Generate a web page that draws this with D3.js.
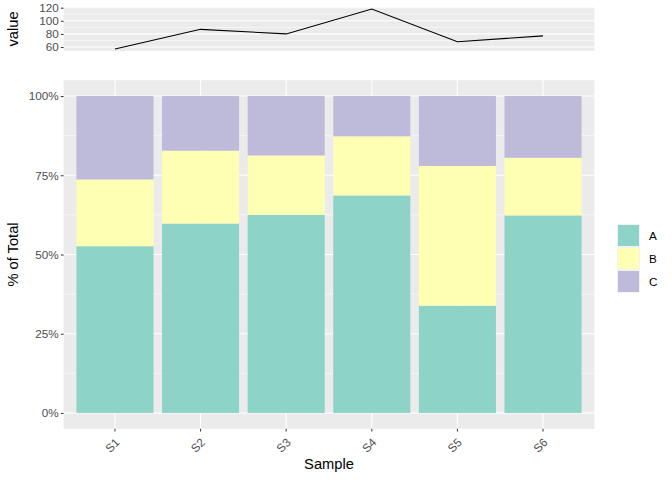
<!DOCTYPE html>
<html>
<head>
<meta charset="utf-8">
<script src="https://cdn.jsdelivr.net/npm/d3@7"></script>
<style>
  body { margin: 0; background: #fff; }
  text { font-family: "Liberation Sans", Arial, sans-serif; }
</style>
</head>
<body>
<svg id="chart" width="672" height="480"></svg>
<script>
// counts per sample and group
var samples = ["S1", "S2", "S3", "S4", "S5", "S6"];
var groups = ["A", "B", "C"];
var countsA = [30, 52, 50, 81, 23, 48];
var countsB = [12, 20, 15, 22, 30, 14];
var countsC = [15, 15, 15, 15, 15, 15];
var colors = ["#8DD3C7", "#FFFFB3", "#BEBADA"];
var topTicks = [60, 80, 100, 120];
var topMinor = [70, 90, 110];
var pctTicks = [0, 0.25, 0.5, 0.75, 1];
var pctMinor = [0.125, 0.375, 0.625, 0.875];

var rows = samples.map(function(s, i) {
  return { sample: s, A: countsA[i], B: countsB[i], C: countsC[i],
           total: countsA[i] + countsB[i] + countsC[i] };
});
rows.forEach(function(r) { groups.forEach(function(g) { r["p" + g] = r[g] / r.total; }); });

var svg = d3.select("#chart");
var left = 63.6, right = 594.4;
var axisCol = "#4D4D4D", gridCol = "#FFFFFF", panelCol = "#EBEBEB";

// ggplot discrete scale: 0.6 units of expansion each side
var x = d3.scaleBand().domain(samples).range([left, right]).paddingOuter(0.1).paddingInner(0);
var xc = function(s) { return x(s) + x.bandwidth() / 2; };

// ---- top panel: totals
var tTop = 7, tBot = 51;
var ext = d3.extent(rows, function(r) { return r.total; });
var pad = (ext[1] - ext[0]) * 0.05;
var yT = d3.scaleLinear().domain([ext[0] - pad, ext[1] + pad]).range([tBot, tTop]);

svg.append("rect").attr("x", left).attr("y", tTop).attr("width", right - left).attr("height", tBot - tTop).attr("fill", panelCol);
svg.append("g").selectAll("line").data(topMinor).join("line")
  .attr("x1", left).attr("x2", right).attr("y1", yT).attr("y2", yT)
  .attr("stroke", gridCol).attr("stroke-width", 0.55);
svg.append("g").selectAll("line").data(topTicks).join("line")
  .attr("x1", left).attr("x2", right).attr("y1", yT).attr("y2", yT)
  .attr("stroke", gridCol).attr("stroke-width", 1.1);

var line = d3.line().x(function(r) { return xc(r.sample); }).y(function(r) { return yT(r.total); });
svg.append("path").datum(rows).attr("d", line).attr("fill", "none").attr("stroke", "#000").attr("stroke-width", 1.1);

var yTAxis = svg.append("g").attr("transform", "translate(" + left + ",0)")
  .call(d3.axisLeft(yT).tickValues(topTicks).tickSize(2.75).tickPadding(2.2));
yTAxis.select(".domain").remove();
yTAxis.selectAll("line").attr("stroke", "#333");
yTAxis.selectAll("text").attr("fill", axisCol).style("font-size", "11.7px");

svg.append("text").attr("transform", "translate(18," + ((tTop + tBot) / 2) + ") rotate(-90)")
  .attr("text-anchor", "middle").style("font-size", "14.7px").text("value");

// ---- main panel: stacked percentages
var mTop = 80.2, mBot = 428.8;
var yM = d3.scaleLinear().domain([-0.05, 1.05]).range([mBot, mTop]);

svg.append("rect").attr("x", left).attr("y", mTop).attr("width", right - left).attr("height", mBot - mTop).attr("fill", panelCol);
svg.append("g").selectAll("line").data(pctMinor).join("line")
  .attr("x1", left).attr("x2", right).attr("y1", yM).attr("y2", yM)
  .attr("stroke", gridCol).attr("stroke-width", 0.55);
svg.append("g").selectAll("line").data(pctTicks).join("line")
  .attr("x1", left).attr("x2", right).attr("y1", yM).attr("y2", yM)
  .attr("stroke", gridCol).attr("stroke-width", 1.1);
svg.append("g").selectAll("line").data(samples).join("line")
  .attr("x1", xc).attr("x2", xc).attr("y1", mTop).attr("y2", mBot)
  .attr("stroke", gridCol).attr("stroke-width", 1.1);

var stack = d3.stack().keys(groups.map(function(g) { return "p" + g; }));
var series = stack(rows);
var bw = x.bandwidth() * 0.9;
svg.append("g").selectAll("g").data(series).join("g")
  .attr("fill", function(d) { return colors[groups.indexOf(d.key.slice(1))]; })
  .selectAll("rect").data(function(d) { return d; }).join("rect")
  .attr("x", function(d) { return xc(d.data.sample) - bw / 2; })
  .attr("width", bw)
  .attr("y", function(d) { return yM(d[1]); })
  .attr("height", function(d) { return yM(d[0]) - yM(d[1]); });

var yMAxis = svg.append("g").attr("transform", "translate(" + left + ",0)")
  .call(d3.axisLeft(yM).tickValues(pctTicks).tickFormat(d3.format(".0%")).tickSize(2.75).tickPadding(2.2));
yMAxis.select(".domain").remove();
yMAxis.selectAll("line").attr("stroke", "#333");
yMAxis.selectAll("text").attr("fill", axisCol).style("font-size", "11.7px");

var xAxis = svg.append("g").attr("transform", "translate(0," + mBot + ")")
  .call(d3.axisBottom(x).tickSize(2.75).tickPadding(2.2));
xAxis.select(".domain").remove();
xAxis.selectAll("line").attr("stroke", "#333");
xAxis.selectAll("text").attr("fill", axisCol).style("font-size", "11.7px")
  .attr("text-anchor", "end").attr("dy", "0.7em")
  .attr("transform", "translate(-4,5) rotate(-45)");

svg.append("text").attr("transform", "translate(18," + ((mTop + mBot) / 2) + ") rotate(-90)")
  .attr("text-anchor", "middle").style("font-size", "14.7px").text("% of Total");
svg.append("text").attr("x", (left + right) / 2).attr("y", 469)
  .attr("text-anchor", "middle").style("font-size", "14.7px").text("Sample");

// ---- legend
var legend = svg.append("g").attr("transform", "translate(617,224)");
var key = legend.selectAll("g").data(groups).join("g")
  .attr("transform", function(d, i) { return "translate(0," + (i * 23) + ")"; });
key.append("rect").attr("width", 23).attr("height", 23).attr("fill", "#F2F2F2");
key.append("rect").attr("x", 1).attr("y", 1).attr("width", 21).attr("height", 21)
  .attr("fill", function(d, i) { return colors[i]; });
key.append("text").attr("x", 32).attr("y", 16).style("font-size", "11.7px").text(function(d) { return d; });
</script>
</body>
</html>
